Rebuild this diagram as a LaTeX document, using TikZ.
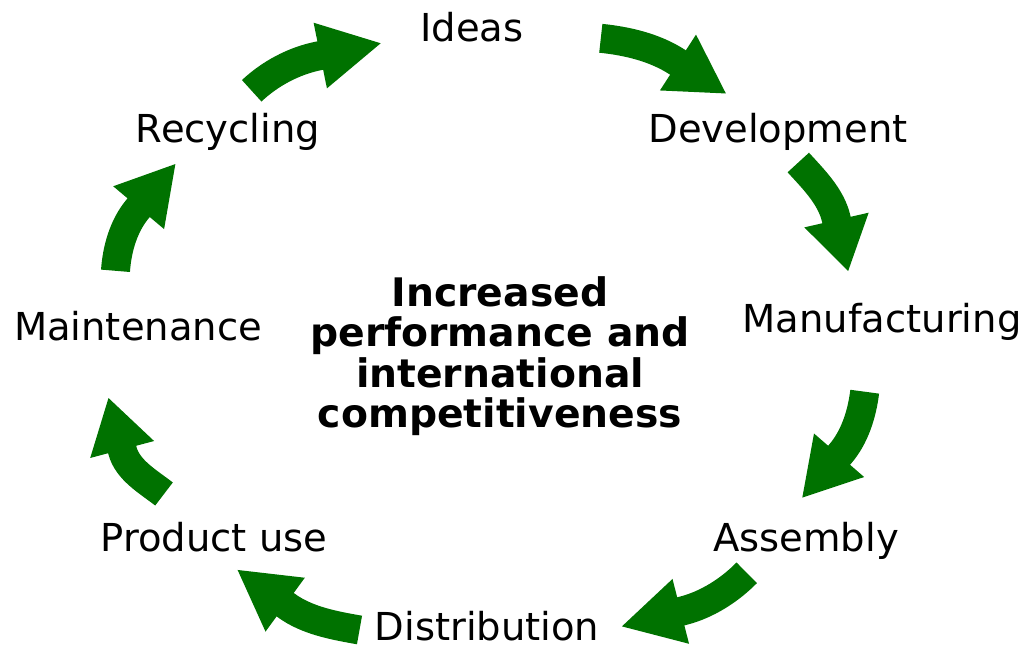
\documentclass[tikz,border=0pt]{standalone}
\usepackage{fontspec}
\setmainfont{DejaVu Sans}
\usetikzlibrary{arrows.meta}
\definecolor{cyclegreen}{RGB}{0,114,0}
\begin{document}
\begin{tikzpicture}[x=1pt,y=-1pt,
  lbl/.style={font=\fontsize{38.5}{46}\selectfont, inner sep=0pt, anchor=base},
  cyc/.style={draw=cyclegreen, line width=29pt, line join=round, -{Triangle[width=62pt,length=#1]}},
  cyc/.default=60pt]
\useasboundingbox (0,0) rectangle (1029,648);

% labels
\node[lbl] (ideas) at (472,41) {Ideas};
\node[lbl] (dev) at (778,142) {Development};
\node[lbl] (manu) at (882,332) {Manufacturing};
\node[lbl] (asm) at (806,551) {Assembly};
\node[lbl] (dist) at (487,640) {Distribution};
\node[lbl] (use) at (214,551) {Product use};
\node[lbl] (maint) at (138,340) {Maintenance};
\node[lbl] (recy) at (228,142) {Recycling};

\node[font=\bfseries\fontsize{39.3}{40.5}\selectfont, align=center, inner sep=0pt] (goal) at (500,356)
  {Increased\\performance and\\international\\competitiveness};

% arrow 1: Recycling -> Ideas
\coordinate (a1s) at (251.7,90.8); \coordinate (a1b) at (318,56); \coordinate (a1t) at (382,43);
\draw[cyc=63pt] (a1s) .. controls (269.9,73.7) and (293.5,61) .. (a1b) -- (a1t);
% arrow 2: Ideas -> Development
\coordinate (a2s) at (600.8,38.3); \coordinate (a2b) at (676.7,61.7); \coordinate (a2t) at (726.7,94);
\draw[cyc=58pt] (a2s) .. controls (627.2,41.0) and (654.4,47.4) .. (a2b) -- (a2t);
% arrow 3: Development -> Manufacturing
\coordinate (a3s) at (798.3,162.5); \coordinate (a3b) at (836.2,218.7); \coordinate (a3t) at (848.3,271.7);
\draw[cyc=53pt] (a3s) .. controls (813.5,179.2) and (831.2,196.7) .. (a3b) -- (a3t);
% arrow 4: Manufacturing -> Assembly
\coordinate (a4s) at (864.7,391.7); \coordinate (a4b) at (840,454.2); \coordinate (a4t) at (801.7,498.3);
\draw[cyc=57pt] (a4s) .. controls (862,413.9) and (854.7,437.3) .. (a4b) -- (a4t);
% arrow 5: Assembly -> Distribution
\coordinate (a5s) at (746.7,572.8); \coordinate (a5b) at (683,610.8); \coordinate (a5t) at (620.7,626.7);
\draw[cyc=62pt] (a5s) .. controls (729.4,590.4) and (706.9,604.7) .. (a5b) -- (a5t);
% arrow 6: Distribution -> Product use
\coordinate (a6s) at (359.5,630); \coordinate (a6b) at (286.3,605.5); \coordinate (a6t) at (236.7,569.3);
\draw[cyc=60pt] (a6s) .. controls (334.2,625.5) and (307.1,620.7) .. (a6b) -- (a6t);
% arrow 7: Product use -> Maintenance
\coordinate (a7s) at (164,494); \coordinate (a7b) at (122.5,450.8); \coordinate (a7t) at (108.3,397.3);
\draw[cyc=54pt] (a7s) .. controls (148.2,481.7) and (127.6,470.1) .. (a7b) -- (a7t);
% arrow 8: Maintenance -> Recycling
\coordinate (a8s) at (115.5,270.8); \coordinate (a8b) at (137.8,208.7); \coordinate (a8t) at (176,163.3);
\draw[cyc=58pt] (a8s) .. controls (117,248.8) and (123.6,225.6) .. (a8b) -- (a8t);
\end{tikzpicture}
\end{document}
